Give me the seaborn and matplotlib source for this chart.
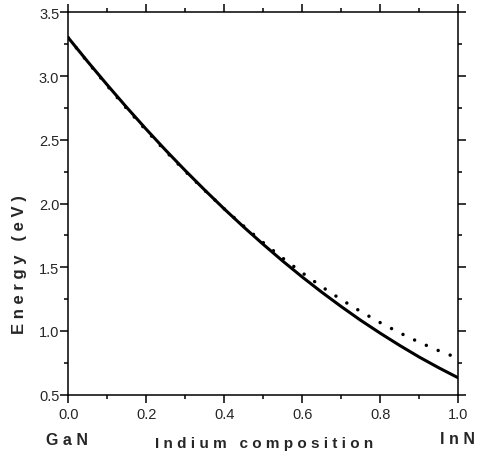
import matplotlib
matplotlib.use("Agg")
import matplotlib.pyplot as plt
import seaborn as sns
import pandas as pd

# Data
composition = [0.0, 0.05, 0.1, 0.15, 0.2, 0.25, 0.3, 0.35, 0.4, 0.45, 0.5,
               0.55, 0.6, 0.65, 0.7, 0.75, 0.8, 0.85, 0.9, 0.95, 1.0]
energy_solid = [3.30, 3.112, 2.930, 2.753, 2.582, 2.417, 2.258, 2.105, 1.957, 1.815, 1.679,
                1.548, 1.423, 1.304, 1.191, 1.083, 0.982, 0.886, 0.795, 0.711, 0.632]
energy_dotted = [3.30, 3.108, 2.923, 2.744, 2.573, 2.409, 2.252, 2.102, 1.958, 1.822, 1.693,
                 1.571, 1.456, 1.347, 1.246, 1.152, 1.065, 0.985, 0.911, 0.845, 0.786]
x_ticks = [0.0, 0.2, 0.4, 0.6, 0.8, 1.0]
x_tick_labels = ["0.0", "0.2", "0.4", "0.6", "0.8", "1.0"]
y_ticks = [0.5, 1.0, 1.5, 2.0, 2.5, 3.0, 3.5]
y_tick_labels = ["0.5", "1.0", "1.5", "2.0", "2.5", "3.0", "3.5"]

sns.set_style("ticks")
plt.rcParams["font.family"] = ["Liberation Sans", "DejaVu Sans"]

df_solid = pd.DataFrame({"x": composition, "E": energy_solid})
df_dot = pd.DataFrame({"x": composition, "E": energy_dotted})

fig = plt.figure(figsize=(4.78, 4.64), dpi=100)
ax = fig.add_axes([0.1429, 0.1472, 0.9588 - 0.1429, 0.9713 - 0.1472])

sns.lineplot(data=df_dot, x="x", y="E", ax=ax, color="black", lw=2.5,
             linestyle=(0, (0.01, 3.7)), dash_capstyle="round")
sns.lineplot(data=df_solid, x="x", y="E", ax=ax, color="black", lw=2.2)

ax.set_xlim(0, 1)
ax.set_ylim(0.5, 3.5)
ax.set_xticks(x_ticks)
ax.set_xticklabels(x_tick_labels)
ax.set_yticks(y_ticks)
ax.set_yticklabels(y_tick_labels)
ax.set_xticks([0.1, 0.3, 0.5, 0.7, 0.9], minor=True)
ax.set_yticks([0.75, 1.25, 1.75, 2.25, 2.75, 3.25], minor=True)
ax.set_xlabel("")
ax.set_ylabel("")

for s in ax.spines.values():
    s.set_visible(True)
    s.set_linewidth(1.1)
    s.set_color("black")

ax.tick_params(which="both", direction="out", top=True, right=True,
               labeltop=False, labelright=False, color="black", width=1.1)
ax.tick_params(which="major", length=5.5, labelsize=10.5)
ax.tick_params(which="minor", length=3.0)
ax.tick_params(axis="y", which="major", pad=1.0)
ax.tick_params(axis="x", which="major", pad=3)

fig.text(0.553, 0.034, "I n d i u m   c o m p o s i t i o n", ha="center", va="baseline",
         fontsize=11, fontweight="bold")
fig.text(0.141, 0.040, "G a N", ha="center", va="baseline", fontsize=11.5, fontweight="bold")
fig.text(0.958, 0.044, "I n N", ha="center", va="baseline", fontsize=11.5, fontweight="bold")
fig.text(0.040, 0.429, "E n e r g y   ( e V )", ha="center", va="center", rotation=90,
         fontsize=12, fontweight="bold")

fig.savefig("out.png", dpi=100)
